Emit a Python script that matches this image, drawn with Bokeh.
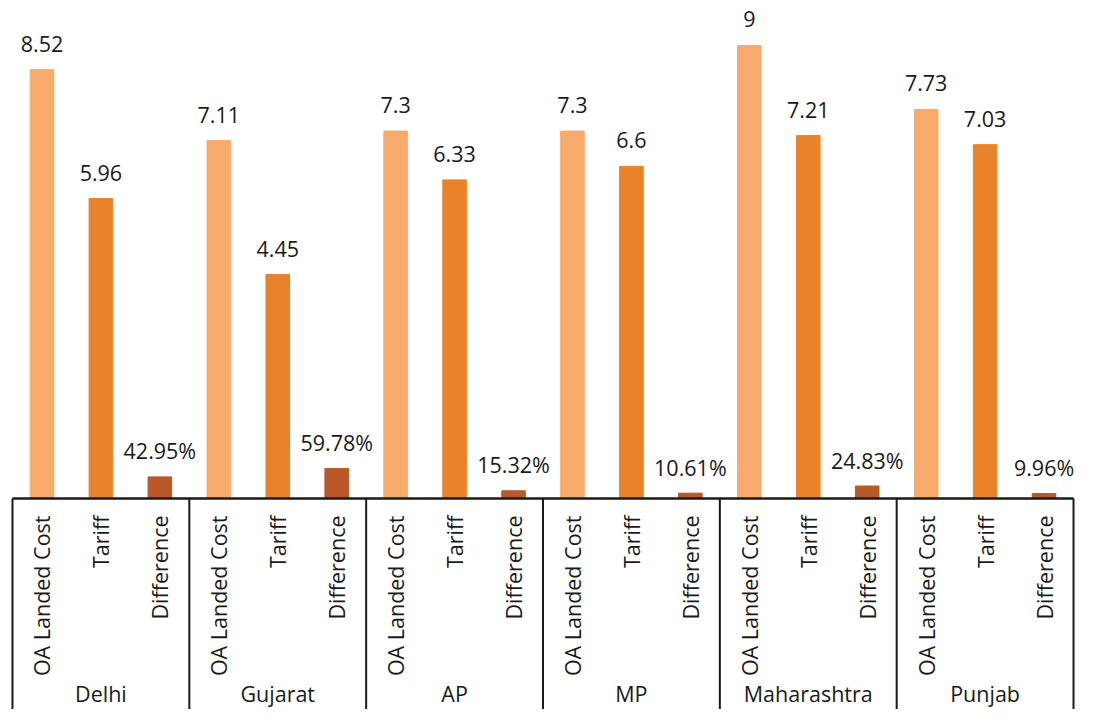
from math import pi
from bokeh.plotting import figure
from bokeh.models import ColumnDataSource, FactorRange, Range1d
from bokeh.core.properties import value
from bokeh.embed import file_html
from bokeh.resources import INLINE

states = ["Delhi", "Gujarat", "AP", "MP", "Maharashtra", "Punjab"]
measures = ["OA Landed Cost", "Tariff", "Difference"]
oa_landed_cost = [8.52, 7.11, 7.3, 7.3, 9, 7.73]
tariff = [5.96, 4.45, 6.33, 6.6, 7.21, 7.03]
difference_pct = [42.95, 59.78, 15.32, 10.61, 24.83, 9.96]

colors = {"OA Landed Cost": "#F8AA6C", "Tariff": "#E9822A", "Difference": "#B9592A"}
FONT = value("Open Sans")
FS = "21.5px"

xs, tops, labels, fills = [], [], [], []
for i, s in enumerate(states):
    for m, v in zip(measures, [oa_landed_cost[i], tariff[i], difference_pct[i]]):
        xs.append((s, m))
        if m == "Difference":
            tops.append(v / 100.0)
            labels.append(f"{v:.2f}%")
        else:
            tops.append(v)
            labels.append(f"{v:g}")
        fills.append(colors[m])

src = ColumnDataSource(dict(x=xs, top=tops, label=labels, color=fills,
                            sub=[m for _, m in xs]))

x_range = FactorRange(*xs, group_padding=0, factor_padding=0, subgroup_padding=0,
                      range_padding=0.0676, range_padding_units="absolute")
p = figure(width=1077, height=709, x_range=x_range, y_range=Range1d(-4.192, 9.894),
           output_backend="svg", toolbar_location=None,
           x_axis_location=None, y_axis_location=None, min_border=0,
           min_border_left=8)
p.outline_line_color = None
p.xgrid.visible = False
p.ygrid.visible = False
p.background_fill_color = "white"

p.vbar(x="x", top="top", width=0.4, bottom=0, color="color", source=src)

# value labels above bars
p.text(x="x", y="top", text="label", source=src, text_align="center",
       text_baseline="alphabetic", y_offset=-26, text_font=FONT,
       text_font_size=FS, text_color="#1a1a1a")

# category labels (rotated)
p.text(x="x", y=0, text="sub", source=src, angle=pi / 2, text_align="right",
       text_baseline="middle", y_offset=17, text_font=FONT,
       text_font_size=FS, text_color="#1a1a1a")

# group labels
p.text(x=states, y=[0] * len(states), text=states, text_align="center",
       text_baseline="alphabetic", y_offset=195, text_font=FONT,
       text_font_size=FS, text_color="#1a1a1a")

# axis line and group separators
edges = [(s, -1.5) for s in states] + [(states[-1], 1.5)]
p.segment(x0=edges, y0=[0] * len(edges), x1=edges, y1=[-5] * len(edges),
          line_color="#1a1a1a", line_width=2)
p.segment(x0=[edges[0]], y0=[0], x1=[edges[-1]], y1=[0],
          line_color="#1a1a1a", line_width=2.5)

open("out.html", "w").write(file_html(p, INLINE))
